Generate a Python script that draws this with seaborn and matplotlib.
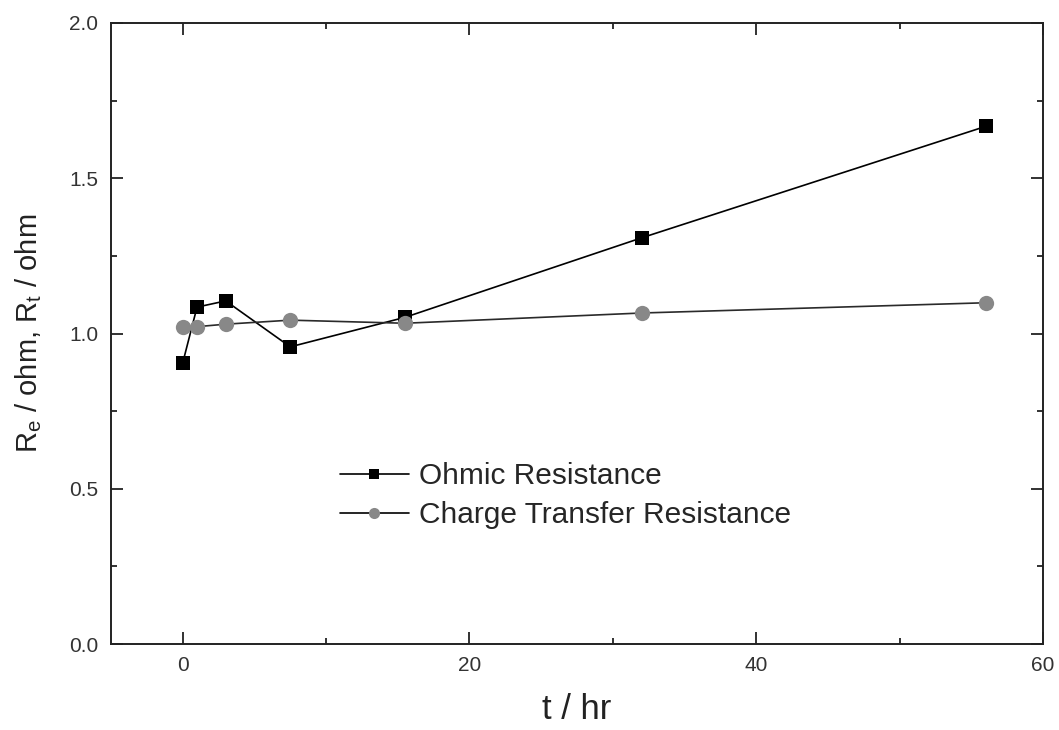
import matplotlib
matplotlib.use("Agg")
import matplotlib.pyplot as plt
import seaborn as sns
from matplotlib.ticker import MultipleLocator, FormatStrFormatter

# Data
time_hr = [0, 1, 3, 7.5, 15.5, 32, 56]
ohmic = [0.905, 1.085, 1.105, 0.957, 1.052, 1.308, 1.667]
charge_transfer = [1.022, 1.022, 1.030, 1.043, 1.033, 1.066, 1.099]
series_names = ["Ohmic Resistance", "Charge Transfer Resistance"]

sns.set_theme(style="ticks")
plt.rcParams['font.family'] = ['Liberation Sans', 'DejaVu Sans']

fig = plt.figure(figsize=(10.59, 7.30), dpi=100)
ax = fig.add_axes([111/1059, 1 - 644/730, (1043-111)/1059, (644-23)/730])

sns.lineplot(x=time_hr, y=ohmic, ax=ax, color="black", linewidth=1.2,
             marker="s", markersize=10, markeredgewidth=0,
             markerfacecolor="black", label=series_names[0])
sns.lineplot(x=time_hr, y=charge_transfer, ax=ax, color="#2a2a2a", linewidth=1.2,
             marker="o", markersize=11, markeredgewidth=0,
             markerfacecolor="#888888", label=series_names[1])

ax.set_xlim(-5, 60)
ax.set_ylim(0, 2.0)
ax.xaxis.set_major_locator(MultipleLocator(20))
ax.xaxis.set_minor_locator(MultipleLocator(10))
ax.yaxis.set_major_locator(MultipleLocator(0.5))
ax.yaxis.set_minor_locator(MultipleLocator(0.25))
ax.yaxis.set_major_formatter(FormatStrFormatter('%.1f'))

ax.tick_params(which="both", direction="in", top=True, right=True,
               colors="#222222", labelcolor="#333333", labelsize=15)
ax.tick_params(which="major", length=8.5, width=1.3)
ax.tick_params(axis="x", which="major", pad=8.5)
ax.tick_params(axis="y", which="major", pad=9)
ax.tick_params(which="minor", length=4.5, width=1.3)
for s in ax.spines.values():
    s.set_linewidth(1.4)
    s.set_color("#222222")

ax.set_xlabel("t / hr", fontsize=25, color="#222222", labelpad=13)
ax.set_ylabel(r"R$_\mathregular{e}$ / ohm, R$_\mathregular{t}$ / ohm", fontsize=21,
              color="#222222", labelpad=18)

leg = ax.legend(loc="upper left", bbox_to_anchor=(0.2457, 0.293), frameon=False,
                fontsize=21.5, handlelength=2.3, handletextpad=0.33,
                labelspacing=0.37, borderaxespad=0, borderpad=0)
for h in leg.legend_handles:
    h.set_color("black")
leg.legend_handles[0].set_markerfacecolor("black")
leg.legend_handles[1].set_markerfacecolor("#888888")
leg.legend_handles[0].set_markersize(7)
leg.legend_handles[1].set_markersize(8)

fig.savefig("out.png", dpi=100)
